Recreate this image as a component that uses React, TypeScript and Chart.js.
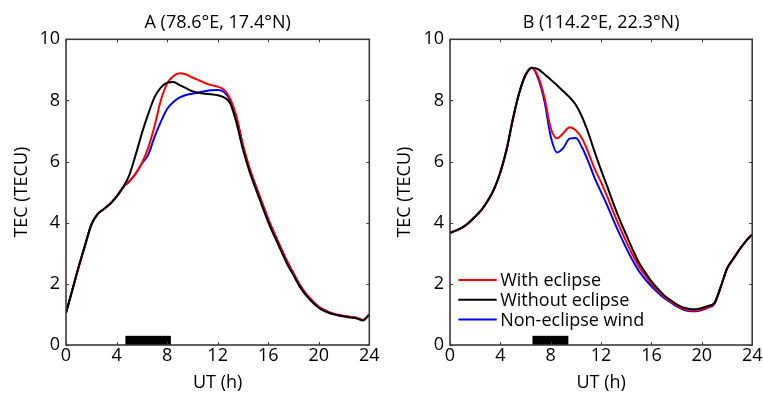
import React, { useEffect, useRef } from 'react';
import { Chart, registerables } from 'chart.js';

Chart.register(...registerables);

// ---------- data ----------
const hours = Array.from({ length: 49 }, (_, i) => i * 0.5);

const aWith = [
  1.05, 1.8, 2.55, 3.25, 3.93, 4.28, 4.45, 4.62, 4.85, 5.15,
  5.35, 5.6, 5.95, 6.45, 7.15, 8.0, 8.55, 8.8, 8.89, 8.85,
  8.75, 8.66, 8.57, 8.5, 8.45, 8.35, 8.05, 7.45, 6.55, 5.82,
  5.22, 4.67, 4.12, 3.64, 3.18, 2.73, 2.35, 1.97, 1.67, 1.44,
  1.25, 1.13, 1.04, 0.99, 0.95, 0.92, 0.89, 0.82, 1.0,
];
const aWithout = [
  1.05, 1.8, 2.55, 3.25, 3.93, 4.28, 4.45, 4.62, 4.85, 5.15,
  5.55, 6.2, 6.92, 7.55, 8.1, 8.42, 8.58, 8.6, 8.5, 8.4,
  8.3, 8.25, 8.22, 8.2, 8.17, 8.1, 7.9, 7.25, 6.4, 5.7,
  5.12, 4.57, 4.02, 3.55, 3.1, 2.65, 2.28, 1.91, 1.62, 1.4,
  1.22, 1.1, 1.02, 0.97, 0.93, 0.9, 0.87, 0.8, 1.0,
];
const aWind = [
  1.05, 1.8, 2.55, 3.25, 3.93, 4.28, 4.45, 4.62, 4.85, 5.15,
  5.35, 5.6, 5.93, 6.22, 6.8, 7.3, 7.72, 7.95, 8.1, 8.18,
  8.22, 8.26, 8.3, 8.33, 8.34, 8.28, 8.0, 7.42, 6.52, 5.8,
  5.22, 4.67, 4.12, 3.64, 3.18, 2.73, 2.35, 1.97, 1.67, 1.44,
  1.25, 1.13, 1.04, 0.99, 0.95, 0.92, 0.89, 0.82, 1.0,
];

const bWith = [
  3.67, 3.75, 3.85, 4.0, 4.2, 4.42, 4.72, 5.1, 5.65, 6.4,
  7.4, 8.25, 8.83, 9.07, 8.78, 8.1, 7.1, 6.76, 6.93, 7.12,
  7.02, 6.75, 6.28, 5.75, 5.32, 4.84, 4.32, 3.83, 3.38, 2.95,
  2.57, 2.28, 2.0, 1.78, 1.58, 1.43, 1.29, 1.19, 1.14, 1.13,
  1.17, 1.25, 1.36, 1.9, 2.5, 2.82, 3.13, 3.4, 3.62,
];
const bWithout = [
  3.67, 3.75, 3.85, 4.0, 4.2, 4.42, 4.72, 5.1, 5.65, 6.4,
  7.4, 8.25, 8.83, 9.07, 9.02, 8.86, 8.68, 8.5, 8.3, 8.1,
  7.85, 7.45, 6.92, 6.3, 5.72, 5.17, 4.6, 4.08, 3.6, 3.13,
  2.7, 2.38, 2.08, 1.84, 1.63, 1.47, 1.33, 1.23, 1.18, 1.17,
  1.21, 1.28, 1.38, 1.9, 2.5, 2.82, 3.13, 3.4, 3.62,
];
const bWind = [
  3.67, 3.75, 3.85, 4.0, 4.2, 4.42, 4.72, 5.1, 5.65, 6.4,
  7.4, 8.25, 8.83, 9.07, 8.72, 7.98, 6.82, 6.3, 6.45, 6.75,
  6.77, 6.45, 5.98, 5.45, 5.0, 4.55, 4.06, 3.6, 3.17, 2.77,
  2.42, 2.15, 1.92, 1.72, 1.54, 1.4, 1.26, 1.16, 1.11, 1.1,
  1.14, 1.22, 1.34, 1.9, 2.5, 2.82, 3.13, 3.4, 3.62,
];

const eclipseA = [4.7, 8.3];
const eclipseB = [6.55, 9.4];
const eclipseBarHeight = 0.3;

const xTicks = [0, 4, 8, 12, 16, 20, 24];
const yTicks = [0, 2, 4, 6, 8, 10];

const titleA = 'A (78.6°E, 17.4°N)';
const titleB = 'B (114.2°E, 22.3°N)';
const xTitle = 'UT (h)';
const yTitle = 'TEC (TECU)';
const seriesLabels = ['With eclipse', 'Without eclipse', 'Non-eclipse wind'];
const seriesColors = ['#ff0000', '#000000', '#0000ff'];

const FONT = "'Open Sans', 'DejaVu Sans', sans-serif";
const FS = 18;

// ---------- plugin: frame, inward ticks, eclipse bar, legend ----------
const framePlugin = {
  id: 'matFrame',
  afterDatasetsDraw(chart: any, _args: any, opts: any) {
    const { ctx, chartArea } = chart;
    const { left, right, top, bottom } = chartArea;
    const xs = chart.scales.x;
    const ys = chart.scales.y;
    ctx.save();
    // eclipse bar
    const bx0 = xs.getPixelForValue(opts.eclipse[0]);
    const bx1 = xs.getPixelForValue(opts.eclipse[1]);
    const by0 = ys.getPixelForValue(opts.barHeight);
    const by1 = ys.getPixelForValue(0);
    ctx.fillStyle = '#000';
    ctx.fillRect(bx0, by0, bx1 - bx0, by1 - by0);
    // ticks inward
    ctx.strokeStyle = '#3a3a3a';
    ctx.lineWidth = 1;
    const tl = 3;
    ctx.beginPath();
    for (const v of xTicks) {
      const px = Math.round(xs.getPixelForValue(v)) + 0.5;
      ctx.moveTo(px, bottom);
      ctx.lineTo(px, bottom - tl);
      ctx.moveTo(px, top);
      ctx.lineTo(px, top + tl);
    }
    for (const v of yTicks) {
      const py = Math.round(ys.getPixelForValue(v)) + 0.5;
      ctx.moveTo(left, py);
      ctx.lineTo(left + tl, py);
      ctx.moveTo(right, py);
      ctx.lineTo(right - tl, py);
    }
    ctx.stroke();
    // frame
    ctx.lineWidth = 1.6;
    ctx.strokeRect(left, top, right - left, bottom - top);
    // legend
    if (opts.legend) {
      const lg = opts.legend;
      ctx.font = `${lg.fontSize}px ${FONT}`;
      ctx.textBaseline = 'middle';
      ctx.textAlign = 'left';
      seriesLabels.forEach((lab, i) => {
        const yy = lg.y + i * lg.rowGap;
        ctx.strokeStyle = seriesColors[i];
        ctx.lineWidth = 2;
        ctx.beginPath();
        ctx.moveTo(lg.x, yy);
        ctx.lineTo(lg.x + lg.lineLen, yy);
        ctx.stroke();
        ctx.fillStyle = '#000';
        ctx.fillText(lab, lg.x + lg.lineLen + lg.textGap, yy + 1);
      });
    }
    ctx.restore();
  },
};

function buildConfig(
  title: string,
  xh: number[],
  withE: number[],
  withoutE: number[],
  wind: number[],
  eclipse: number[],
  yAxisWidth: number,
  rightPad: number,
  yTitlePad: number,
  legend: any
) {
  const mk = (vals: number[]) => vals.map((v, i) => ({ x: xh[i], y: v }));
  // draw order: black on top, red, then blue
  const datasets = [
    { label: seriesLabels[1], data: mk(withoutE), borderColor: seriesColors[1], order: 0 },
    { label: seriesLabels[0], data: mk(withE), borderColor: seriesColors[0], order: 1 },
    { label: seriesLabels[2], data: mk(wind), borderColor: seriesColors[2], order: 2 },
  ].map((d) => ({
    ...d,
    borderWidth: 2,
    pointRadius: 0,
    fill: false,
    cubicInterpolationMode: 'monotone' as const,
  }));
  return {
    type: 'line' as const,
    data: { datasets },
    options: {
      responsive: false,
      animation: false as const,
      devicePixelRatio: 1,
      layout: { padding: { left: 0, right: rightPad, top: 0, bottom: 0 } },
      plugins: {
        legend: { display: false },
        tooltip: { enabled: false },
        title: {
          display: true,
          text: title,
          fullSize: false,
          color: '#000',
          font: { family: FONT, size: FS, weight: 'normal' as const, lineHeight: 1.0 },
          padding: { top: 14, bottom: 7.3 },
        },
        matFrame: { eclipse, barHeight: eclipseBarHeight, legend },
      },
      scales: {
        x: {
          type: 'linear' as const,
          min: 0,
          max: 24,
          afterBuildTicks: (s: any) => {
            s.ticks = xTicks.map((v) => ({ value: v }));
          },
          afterFit: (s: any) => {
            s.height = 48;
          },
          grid: { display: false, drawTicks: false },
          border: { display: false },
          ticks: {
            color: '#000',
            font: { family: FONT, size: FS, lineHeight: 1.2 },
            padding: 0.5,
            maxRotation: 0,
            autoSkip: false,
          },
          title: {
            display: true,
            text: xTitle,
            color: '#000',
            font: { family: FONT, size: FS, lineHeight: 1.0 },
            padding: { top: 0, bottom: 1 },
          },
        },
        y: {
          type: 'linear' as const,
          min: 0,
          max: 10,
          afterBuildTicks: (s: any) => {
            s.ticks = yTicks.map((v) => ({ value: v }));
          },
          afterFit: (s: any) => {
            s.width = yAxisWidth;
          },
          grid: { display: false, drawTicks: false },
          border: { display: false },
          ticks: {
            color: '#000',
            font: { family: FONT, size: FS },
            padding: 6,
            autoSkip: false,
          },
          title: {
            display: true,
            text: yTitle,
            color: '#000',
            font: { family: FONT, size: FS, lineHeight: 1.0 },
            padding: { top: yTitlePad, bottom: 0 },
          },
        },
      },
    },
    plugins: [framePlugin],
  };
}

function Panel(props: { config: any; width: number; height: number; left: number }) {
  const ref = useRef<HTMLCanvasElement | null>(null);
  useEffect(() => {
    if (!ref.current) return;
    const chart = new Chart(ref.current, props.config);
    return () => chart.destroy();
  }, []);
  return (
    <canvas
      ref={ref}
      width={props.width}
      height={props.height}
      style={{ position: 'absolute', left: props.left, top: 0, width: props.width, height: props.height }}
    />
  );
}

export default function App() {
  const cfgA = buildConfig(titleA, hours, aWith, aWithout, aWind, eclipseA, 66, 11.7, 13, null);
  const cfgB = buildConfig(titleB, hours, bWith, bWithout, bWind, eclipseB, 69, 9.7, 15, {
    x: 77.3,
    y: 280,
    rowGap: 19.7,
    lineLen: 38.4,
    textGap: 3.5,
    fontSize: FS,
  });
  return (
    <div style={{ position: 'fixed', left: 0, top: 0, width: 763, height: 393, background: '#fff', overflow: 'hidden' }}>
      <Panel config={cfgA} width={381} height={393} left={0} />
      <Panel config={cfgB} width={382} height={393} left={381} />
    </div>
  );
}
